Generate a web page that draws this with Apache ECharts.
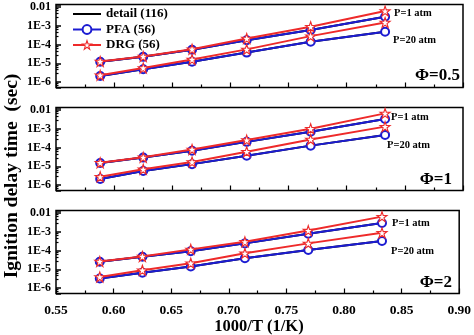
<!DOCTYPE html>
<html><head><meta charset="utf-8">
<script src="https://cdn.jsdelivr.net/npm/echarts@6/dist/echarts.min.js"></script>
<style>html,body{margin:0;padding:0;background:#fff}#c{width:474px;height:335px}</style>
</head><body><div id="c"></div>
<script>
// ---------------- data ----------------
const xValues = [0.588, 0.625, 0.667, 0.714, 0.769, 0.833];
const xTickLabels = ['0.55','0.60','0.65','0.70','0.75','0.80','0.85','0.90'];
const yTickLabels = {'-2':'0.01','-3':'1E-3','-4':'1E-4','-5':'1E-5','-6':'1E-6'};
const seriesNames = ['detail (116)', 'PFA (56)', 'DRG (56)'];
const phiLabels = ['\u03A6=0.5', '\u03A6=1', '\u03A6=2'];
const pressureLabels = ['P=1 atm', 'P=20 atm'];

// Φ=0.5
const detail_phi05_p1  = [1.2e-5, 2.2e-5, 5.3e-5, 1.7e-4, 5.9e-4, 3.0e-3];
const detail_phi05_p20 = [2.1e-6, 4.8e-6, 1.2e-5, 3.7e-5, 1.4e-4, 4.8e-4];
const pfa_phi05_p1     = [1.2e-5, 2.2e-5, 5.3e-5, 1.7e-4, 5.9e-4, 3.0e-3];
const pfa_phi05_p20    = [2.1e-6, 4.8e-6, 1.2e-5, 3.7e-5, 1.4e-4, 4.8e-4];
const drg_phi05_p1     = [1.25e-5, 2.3e-5, 5.6e-5, 2.1e-4, 8.9e-4, 6.1e-3];
const drg_phi05_p20    = [2.3e-6, 5.6e-6, 1.6e-5, 5.5e-5, 2.8e-4, 1.5e-3];
// Φ=1
const detail_phi1_p1   = [1.5e-5, 2.9e-5, 6.7e-5, 2.0e-4, 6.9e-4, 3.3e-3];
const detail_phi1_p20  = [2.1e-6, 5.6e-6, 1.3e-5, 3.6e-5, 1.26e-4, 4.7e-4];
const pfa_phi1_p1      = [1.5e-5, 2.9e-5, 6.7e-5, 2.0e-4, 6.9e-4, 3.3e-3];
const pfa_phi1_p20     = [2.1e-6, 5.6e-6, 1.3e-5, 3.6e-5, 1.26e-4, 4.7e-4];
const drg_phi1_p1      = [1.55e-5, 3.0e-5, 7.9e-5, 2.5e-4, 1.0e-3, 6.6e-3];
const drg_phi1_p20     = [2.75e-6, 6.9e-6, 1.7e-5, 6.0e-5, 2.7e-4, 1.3e-3];
// Φ=2
const detail_phi2_p1   = [2.5e-5, 4.6e-5, 9.1e-5, 2.4e-4, 7.8e-4, 2.9e-3];
const detail_phi2_p20  = [3.2e-6, 6.6e-6, 1.4e-5, 3.9e-5, 1.07e-4, 3.2e-4];
const pfa_phi2_p1      = [2.5e-5, 4.6e-5, 9.1e-5, 2.4e-4, 7.8e-4, 2.9e-3];
const pfa_phi2_p20     = [3.2e-6, 6.6e-6, 1.4e-5, 3.9e-5, 1.07e-4, 3.2e-4];
const drg_phi2_p1      = [2.6e-5, 4.8e-5, 1.15e-4, 2.9e-4, 1.16e-3, 6.4e-3];
const drg_phi2_p20     = [3.9e-6, 8.9e-6, 2.1e-5, 7.1e-5, 2.4e-4, 8.8e-4];

const panels = [
  {detail:[detail_phi05_p1, detail_phi05_p20], pfa:[pfa_phi05_p1, pfa_phi05_p20], drg:[drg_phi05_p1, drg_phi05_p20]},
  {detail:[detail_phi1_p1, detail_phi1_p20],   pfa:[pfa_phi1_p1, pfa_phi1_p20],   drg:[drg_phi1_p1, drg_phi1_p20]},
  {detail:[detail_phi2_p1, detail_phi2_p20],   pfa:[pfa_phi2_p1, pfa_phi2_p20],   drg:[drg_phi2_p1, drg_phi2_p20]}
];

// ---------------- styling / layout ----------------
const FONT = '"Times New Roman","Liberation Serif",serif';
const BLUE = '#1c1cd2';
const RED = '#ee2a2a';
const STAR = 'path://M50,2 L61.8,36.2 L97.6,36.2 L68.6,57.4 L79.4,91.6 L50,70.4 L20.6,91.6 L31.4,57.4 L2.4,36.2 L38.2,36.2 Z';
const gridTops = [4.5, 107.5, 210.5];
const gridH = 83;

const zip = (xs, ys) => xs.map((x, i) => [x, ys[i]]);

const grids = [], xAxes = [], yAxes = [], series = [];
panels.forEach((p, gi) => {
  grids.push({left: 56, width: 407, top: gridTops[gi], height: gridH, show: true,
    borderColor: '#000', borderWidth: 1.5, backgroundColor: 'transparent', containLabel: false});
  xAxes.push({type: 'value', gridIndex: gi, min: 0.55, max: 0.90, interval: 0.05,
    axisLine: {show: false},
    axisTick: {show: true, inside: true, length: 5, lineStyle: {color: '#000', width: 1.2}},
    minorTick: {show: true, splitNumber: 2, length: 3, lineStyle: {color: '#000', width: 1.2}},
    splitLine: {show: false},
    axisLabel: {show: gi === 2, margin: 10, color: '#000', fontFamily: FONT, fontWeight: 'bold', fontSize: 13.5,
      formatter: v => { const i = Math.round((v - 0.55) / 0.05); return xTickLabels[i] || ''; }}
  });
  yAxes.push({type: 'log', logBase: 10, gridIndex: gi, min: 5.1e-7, max: 0.0136,
    axisLine: {show: false},
    axisTick: {show: true, inside: true, length: 5, lineStyle: {color: '#000', width: 1.5}},
    minorTick: {show: true, splitNumber: 5, length: 2.5, lineStyle: {color: '#000', width: 1.2}},
    splitLine: {show: false},
    axisLabel: {margin: 5, color: '#000', fontFamily: FONT, fontWeight: 'bold', fontSize: 12,
      formatter: v => { const e = Math.log10(v); const r = Math.round(e);
        if (Math.abs(e - r) > 0.02) return ''; return yTickLabels[String(r)] || ''; }}
  });
  for (let k = 0; k < 2; k++) {
    series.push({name: seriesNames[0], type: 'line', xAxisIndex: gi, yAxisIndex: gi,
      data: zip(xValues, p.detail[k]), symbol: 'none', lineStyle: {color: '#000', width: 2},
      itemStyle: {color: '#000'}, z: 2, animation: false});
  }
  for (let k = 0; k < 2; k++) {
    series.push({name: seriesNames[1], type: 'line', xAxisIndex: gi, yAxisIndex: gi,
      data: zip(xValues, p.pfa[k]), symbol: 'emptyCircle', symbolSize: 8, showAllSymbol: true,
      lineStyle: {color: BLUE, width: 2}, itemStyle: {color: BLUE, borderColor: BLUE, borderWidth: 1.2},
      z: 3, animation: false});
  }
  for (let k = 0; k < 2; k++) {
    series.push({name: seriesNames[2], type: 'line', xAxisIndex: gi, yAxisIndex: gi,
      data: zip(xValues, p.drg[k]), symbol: STAR, symbolSize: 10, showAllSymbol: true,
      lineStyle: {color: RED, width: 2}, itemStyle: {color: '#fff', borderColor: RED, borderWidth: 1.1},
      z: 4, animation: false});
  }
});

const txt = (text, x, y, size, align, extra) => Object.assign({type: 'text', x: x, y: y, z: 100,
  style: {text: text, fill: '#000', fontFamily: FONT, fontWeight: 'bold', fontSize: size,
    align: align || 'left', verticalAlign: 'middle'}}, extra || {});

const pLabelPos = [[[394, 13.5], [393, 40.5]], [[391, 117.5], [387, 145]], [[392, 223.5], [391, 251.5]]];
const phiPos = [[460, 75.5], [452, 180], [452, 283]];
const graphics = [];
pLabelPos.forEach((pp, gi) => {
  graphics.push(txt(pressureLabels[0], pp[0][0], pp[0][1], 10.5));
  graphics.push(txt(pressureLabels[1], pp[1][0], pp[1][1], 10.5));
  graphics.push(txt(phiLabels[gi], phiPos[gi][0], phiPos[gi][1], 17, 'right'));
});
graphics.push(txt('1000/T (1/K)', 259, 327, 16.5, 'center'));
graphics.push(txt('Ignition delay time  (sec)', 12, 176, 19.5, 'center', {rotation: Math.PI / 2}));

const chart = echarts.init(document.getElementById('c'), null, {renderer: 'canvas'});
chart.setOption({
  animation: false,
  backgroundColor: '#fff',
  grid: grids, xAxis: xAxes, yAxis: yAxes, series: series,
  legend: {
    data: [
      {name: seriesNames[0], itemStyle: {opacity: 0}},
      {name: seriesNames[1]},
      {name: seriesNames[2], itemStyle: {color: '#fff', borderColor: RED, borderWidth: 1.1}}
    ],
    orient: 'vertical', left: 72, top: 7.5, itemWidth: 28, itemHeight: 11,
    itemGap: 2.5, padding: 0, selectedMode: false,
    textStyle: {fontFamily: FONT, fontWeight: 'bold', fontSize: 13, color: '#000'}},
  graphic: graphics
});
</script></body></html>
